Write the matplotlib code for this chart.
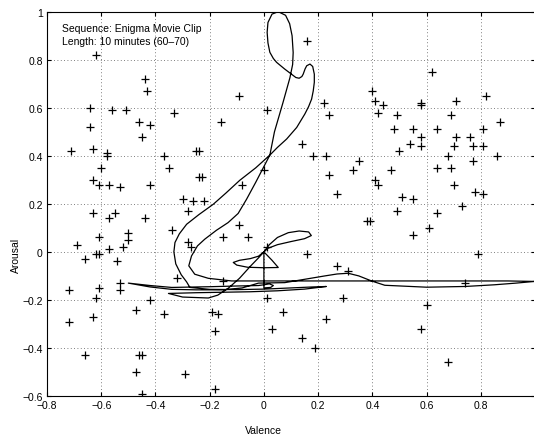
import matplotlib
matplotlib.use("Agg")
import matplotlib.pyplot as plt

plt.rcParams['font.family'] = ['Liberation Sans', 'DejaVu Sans']

# Scatter of annotated clips (valence, arousal)
valence = [
    -0.62, -0.44, -0.43, -0.64, -0.56, -0.51, -0.46, -0.42, -0.64, -0.45, -0.71, -0.63, -0.58, -0.58, -0.37,
    -0.60, -0.35, -0.63, -0.61, -0.57, -0.53, -0.42,
    -0.33, -0.09, 0.01, -0.16, -0.25, -0.24, -0.24, -0.23, 0.00, -0.08, -0.30, -0.26, -0.22,
    0.16, 0.40, 0.22, 0.41, 0.44, 0.24, 0.42, 0.49, 0.48, 0.14, 0.18, 0.23, 0.50, 0.35, 0.24, 0.33, 0.47,
    0.41, 0.42, 0.27, 0.51,
    0.62, 0.58, 0.58, 0.71, 0.82, 0.69, 0.87, 0.55, 0.64, 0.81, 0.58, 0.71, 0.76, 0.54, 0.58, 0.70, 0.77,
    0.81, 0.68, 0.86, 0.77, 0.64, 0.69, 0.70, 0.78, 0.81, 0.55, 0.73,
    -0.63, -0.57, -0.55, -0.44, -0.34, -0.50, -0.50, -0.61, -0.69, -0.52, -0.57, -0.62, -0.61, -0.66, -0.54,
    -0.53, -0.53, -0.61, -0.72, -0.62, -0.42, -0.47, -0.37, -0.63, -0.72, -0.66, -0.46, -0.45, -0.47, -0.45,
    -0.28, -0.09, -0.15, -0.06, -0.28, -0.27, 0.01, -0.32, -0.15, 0.01, -0.19, -0.17, 0.07, -0.18, 0.03,
    -0.29, -0.18,
    0.49, 0.38, 0.39, 0.16, 0.27, 0.31, 0.29, 0.23, 0.14, 0.19,
    0.64, 0.61, 0.55, 0.79, 0.74, 0.60, 0.58, 0.68,
]
arousal = [
    0.82, 0.72, 0.67, 0.60, 0.59, 0.59, 0.54, 0.53, 0.52, 0.48, 0.42, 0.43, 0.41, 0.40, 0.40,
    0.35, 0.35, 0.30, 0.28, 0.28, 0.27, 0.28,
    0.58, 0.65, 0.59, 0.54, 0.42, 0.42, 0.31, 0.31, 0.34, 0.28, 0.22, 0.21, 0.21,
    0.88, 0.67, 0.62, 0.63, 0.61, 0.57, 0.58, 0.57, 0.51, 0.45, 0.40, 0.40, 0.42, 0.38, 0.32, 0.34, 0.34,
    0.30, 0.28, 0.24, 0.23,
    0.75, 0.62, 0.61, 0.63, 0.65, 0.57, 0.54, 0.51, 0.51, 0.51, 0.48, 0.48, 0.48, 0.45, 0.44, 0.44, 0.44,
    0.44, 0.40, 0.40, 0.38, 0.35, 0.35, 0.28, 0.25, 0.24, 0.22, 0.19,
    0.16, 0.14, 0.16, 0.14, 0.09, 0.08, 0.05, 0.06, 0.03, 0.02, 0.01, -0.01, -0.01, -0.03, -0.04,
    -0.13, -0.16, -0.15, -0.16, -0.19, -0.20, -0.24, -0.26, -0.27, -0.29, -0.43, -0.43, -0.43, -0.50, -0.59,
    0.17, 0.11, 0.06, 0.06, 0.04, 0.02, 0.02, -0.11, -0.12, -0.19, -0.25, -0.26, -0.25, -0.33, -0.32,
    -0.51, -0.57,
    0.17, 0.13, 0.13, -0.01, -0.06, -0.08, -0.19, -0.28, -0.36, -0.40,
    0.16, 0.10, 0.07, -0.01, -0.13, -0.22, -0.32, -0.46,
]

# Trajectory of the movie clip in valence/arousal space
traj_valence = [
    # long flat stroke to the left, into the inner bend
    0.998, 0.90, 0.75, 0.60, 0.45, 0.30, 0.15, 0.00, -0.119,
    -0.205, -0.255, -0.277, -0.267, -0.245, -0.218, -0.175, -0.132, -0.095, -0.064, -0.030, 0.004,
    # up to the big loop
    0.022, 0.039, 0.070, 0.096, 0.106, 0.108, 0.104, 0.095, 0.080, 0.053, 0.030, 0.015, 0.012, 0.015,
    0.022, 0.035, 0.047, 0.077, 0.102, 0.118, 0.130, 0.140, 0.145, 0.152, 0.158, 0.170, 0.180, 0.186,
    0.186, 0.182, 0.176, 0.165, 0.151, 0.121, 0.084, 0.050, 0.022,
    # straight stroke down, outer bend
    -0.030, -0.089, -0.140, -0.187, -0.240, -0.285, -0.312, -0.328, -0.332, -0.325, -0.305, -0.285, -0.273,
    # bundle strokes
    -0.20, -0.10, 0.00, 0.10, 0.18, 0.23,
    0.15, 0.05, -0.05, -0.15, -0.25, -0.352,
    -0.32, -0.30, -0.25, -0.205, -0.17,
    # tent, ellipse, small upper loop
    -0.13, -0.09, -0.05, -0.02, 0.00,
    0.03, 0.053, 0.00, -0.06, -0.10, -0.113, -0.09, -0.05, -0.02, 0.00,
    0.02, 0.05, 0.09, 0.13, 0.165, 0.175, 0.15, 0.10, 0.05, 0.015, 0.00,
    0.00,
    0.025, 0.035, 0.02, 0.00, -0.02,
    -0.10, -0.20, -0.30, -0.34, -0.42, -0.50,
    -0.42, -0.34, -0.25, -0.15, -0.08, -0.02,
    # wavy stroke back to the right
    0.077, 0.151, 0.225, 0.270, 0.311, 0.350, 0.397, 0.446, 0.539, 0.600, 0.742, 0.850, 0.930, 0.998,
]
traj_arousal = [
    -0.123, -0.121, -0.121, -0.121, -0.121, -0.121, -0.121, -0.121, -0.121,
    -0.110, -0.093, -0.058, -0.017, 0.025, 0.053, 0.090, 0.122, 0.160, 0.219, 0.290, 0.364,
    0.403, 0.500, 0.620, 0.725, 0.780, 0.830, 0.900, 0.950, 0.985, 1.000, 0.990, 0.955, 0.914, 0.870,
    0.831, 0.805, 0.789, 0.761, 0.740, 0.726, 0.723, 0.730, 0.740, 0.762, 0.775, 0.782, 0.772, 0.740,
    0.706, 0.670, 0.636, 0.605, 0.574, 0.518, 0.470, 0.435, 0.403,
    0.350, 0.298, 0.245, 0.198, 0.155, 0.115, 0.075, 0.039, 0.000, -0.050, -0.095, -0.125, -0.148,
    -0.156, -0.157, -0.155, -0.150, -0.146, -0.144,
    -0.155, -0.162, -0.166, -0.168, -0.170, -0.173,
    -0.182, -0.188, -0.190, -0.192, -0.180,
    -0.150, -0.110, -0.060, -0.025, 0.000,
    -0.035, -0.065, -0.066, -0.064, -0.055, -0.044, -0.035, -0.028, -0.018, 0.000,
    0.030, 0.060, 0.080, 0.087, 0.083, 0.068, 0.055, 0.043, 0.030, 0.015, 0.000,
    -0.150,
    -0.148, -0.140, -0.133, -0.137, -0.140,
    -0.142, -0.145, -0.147, -0.148, -0.140, -0.130,
    -0.146, -0.156, -0.158, -0.158, -0.150, -0.130,
    -0.128, -0.114, -0.100, -0.092, -0.089, -0.100, -0.121, -0.139, -0.144, -0.147, -0.144, -0.137, -0.130, -0.123,
]

xticks = [-0.8, -0.6, -0.4, -0.2, 0, 0.2, 0.4, 0.6, 0.8]
xtick_labels = ['\u22120.8', '\u22120.6', '\u22120.4', '\u22120.2', '0', '0.2', '0.4', '0.6', '0.8']
yticks = [-0.6, -0.4, -0.2, 0, 0.2, 0.4, 0.6, 0.8, 1]
ytick_labels = ['\u22120.6', '\u22120.4', '\u22120.2', '0', '0.2', '0.4', '0.6', '0.8', '1']

fig = plt.figure(figsize=(5.34, 4.39), dpi=100)
ax = fig.add_axes([47/534, 1 - 397/439, 488/534, (397 - 12.7)/439])

ax.plot(traj_valence, traj_arousal, color='black', lw=0.9, solid_joinstyle='round')
ax.plot(valence, arousal, linestyle='none', marker='+', color='black', markersize=6, markeredgewidth=0.9)

ax.set_xlim(-0.8, 1.0)
ax.set_ylim(-0.6, 1.0)
ax.set_xticks(xticks)
ax.set_xticklabels(xtick_labels)
ax.set_yticks(yticks)
ax.set_yticklabels(ytick_labels)
ax.tick_params(direction='in', length=3, width=0.8, labelsize=7.5, top=True, right=True, pad=3)
ax.grid(True, linestyle=(0, (1, 3)), color='#555555', linewidth=0.6)
for s in ax.spines.values():
    s.set_linewidth(0.8)

ax.text(-0.745, 0.933, 'Sequence: Enigma Movie Clip', fontsize=7.5, va='center', ha='left')
ax.text(-0.745, 0.878, 'Length: 10 minutes (60\u201370)', fontsize=7.5, va='center', ha='left')

ax.set_xlabel('Valence', fontsize=7.5)
ax.xaxis.set_label_coords(0.8 / 1.8, -0.075)
ax.set_ylabel('Arousal', fontsize=7.5)
ax.yaxis.set_label_coords(-0.053, 0.59 / 1.6)

fig.savefig('out.png', dpi=100)
